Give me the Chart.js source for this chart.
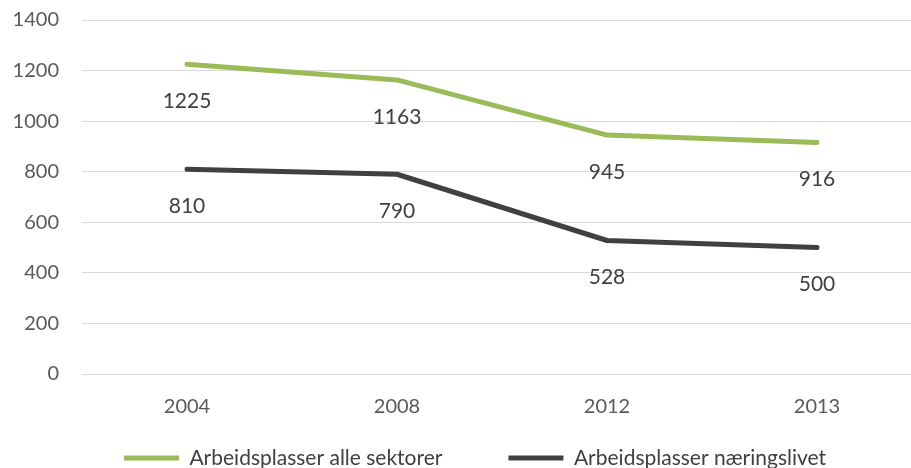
<!DOCTYPE html>
<html>
<head>
<meta charset="utf-8">
<script src="https://cdn.jsdelivr.net/npm/chart.js@4/dist/chart.umd.min.js"></script>
<style>
html,body{margin:0;padding:0;overflow:hidden;background:#fff;}
#wrap{width:922px;height:468px;position:relative;}
</style>
</head>
<body>
<div id="wrap"><canvas id="c"></canvas></div>
<script>
const categories = ['2004', '2008', '2012', '2013'];
const alleSektorer = [1225, 1163, 945, 916];
const naeringslivet = [810, 790, 528, 500];
const seriesNames = ['Arbeidsplasser alle sektorer', 'Arbeidsplasser næringslivet'];
const yTicks = [0, 200, 400, 600, 800, 1000, 1200, 1400];

const FONT = 'Lato, "Open Sans", sans-serif';
const LEGEND_PAD = 66;
const LEGEND_FONT = 21;

const dataLabels = {
  id: 'dataLabels',
  afterDatasetsDraw(chart) {
    const ctx = chart.ctx;
    ctx.save();
    ctx.font = '21px ' + FONT;
    ctx.fillStyle = '#404040';
    ctx.textAlign = 'center';
    ctx.textBaseline = 'middle';
    chart.data.datasets.forEach((ds, i) => {
      const meta = chart.getDatasetMeta(i);
      meta.data.forEach((pt, j) => {
        ctx.fillText(String(ds.data[j]), pt.x, pt.y + 37);
      });
    });
    ctx.restore();
  }
};

const legendPlacer = {
  id: 'legendPlacer',
  afterLayout(chart) {
    const lg = chart.legend;
    if (!lg) return;
    const h = lg.bottom - lg.top;
    lg.top = 458 - LEGEND_PAD - LEGEND_FONT / 2;
    lg.bottom = lg.top + h;
    lg.left += 28;
  }
};

new Chart(document.getElementById('c'), {
  type: 'line',
  data: {
    labels: categories,
    datasets: [
      {label: seriesNames[0], data: alleSektorer, borderColor: '#9bbb59', backgroundColor: '#9bbb59',
       borderWidth: 5, borderCapStyle: 'round', borderJoinStyle: 'round', pointRadius: 0, tension: 0},
      {label: seriesNames[1], data: naeringslivet, borderColor: '#404040', backgroundColor: '#404040',
       borderWidth: 5, borderCapStyle: 'round', borderJoinStyle: 'round', pointRadius: 0, tension: 0}
    ]
  },
  options: {
    responsive: true,
    maintainAspectRatio: false,
    animation: false,
    layout: {padding: {left: 0, top: 20, right: 0, bottom: -48}},
    plugins: {
      legend: {
        position: 'bottom',
        labels: {
          usePointStyle: true,
          pointStyle: 'line',
          pointStyleWidth: 55,
          boxHeight: 5,
          color: '#404040',
          font: {family: FONT, size: LEGEND_FONT},
          padding: LEGEND_PAD
        }
      },
      tooltip: {enabled: false}
    },
    scales: {
      x: {
        offset: true,
        grid: {display: false, drawTicks: false},
        border: {display: false},
        ticks: {color: '#595959', font: {family: FONT, size: 20}, padding: 21},
        afterFit(axis) { axis.height = 45; }
      },
      y: {
        min: 0, max: 1400,
        afterBuildTicks(axis) { axis.ticks = yTicks.map(v => ({value: v})); },
        afterFit(axis) { axis.width = 82; axis.paddingTop = 0; axis.paddingBottom = 0; },
        grid: {color: '#d9d9d9', lineWidth: 1, drawTicks: false},
        border: {display: false},
        ticks: {color: '#595959', font: {family: FONT, size: 20}, padding: 23,
                callback: v => String(v)}
      }
    }
  },
  plugins: [dataLabels, legendPlacer]
});
</script>
</body>
</html>
